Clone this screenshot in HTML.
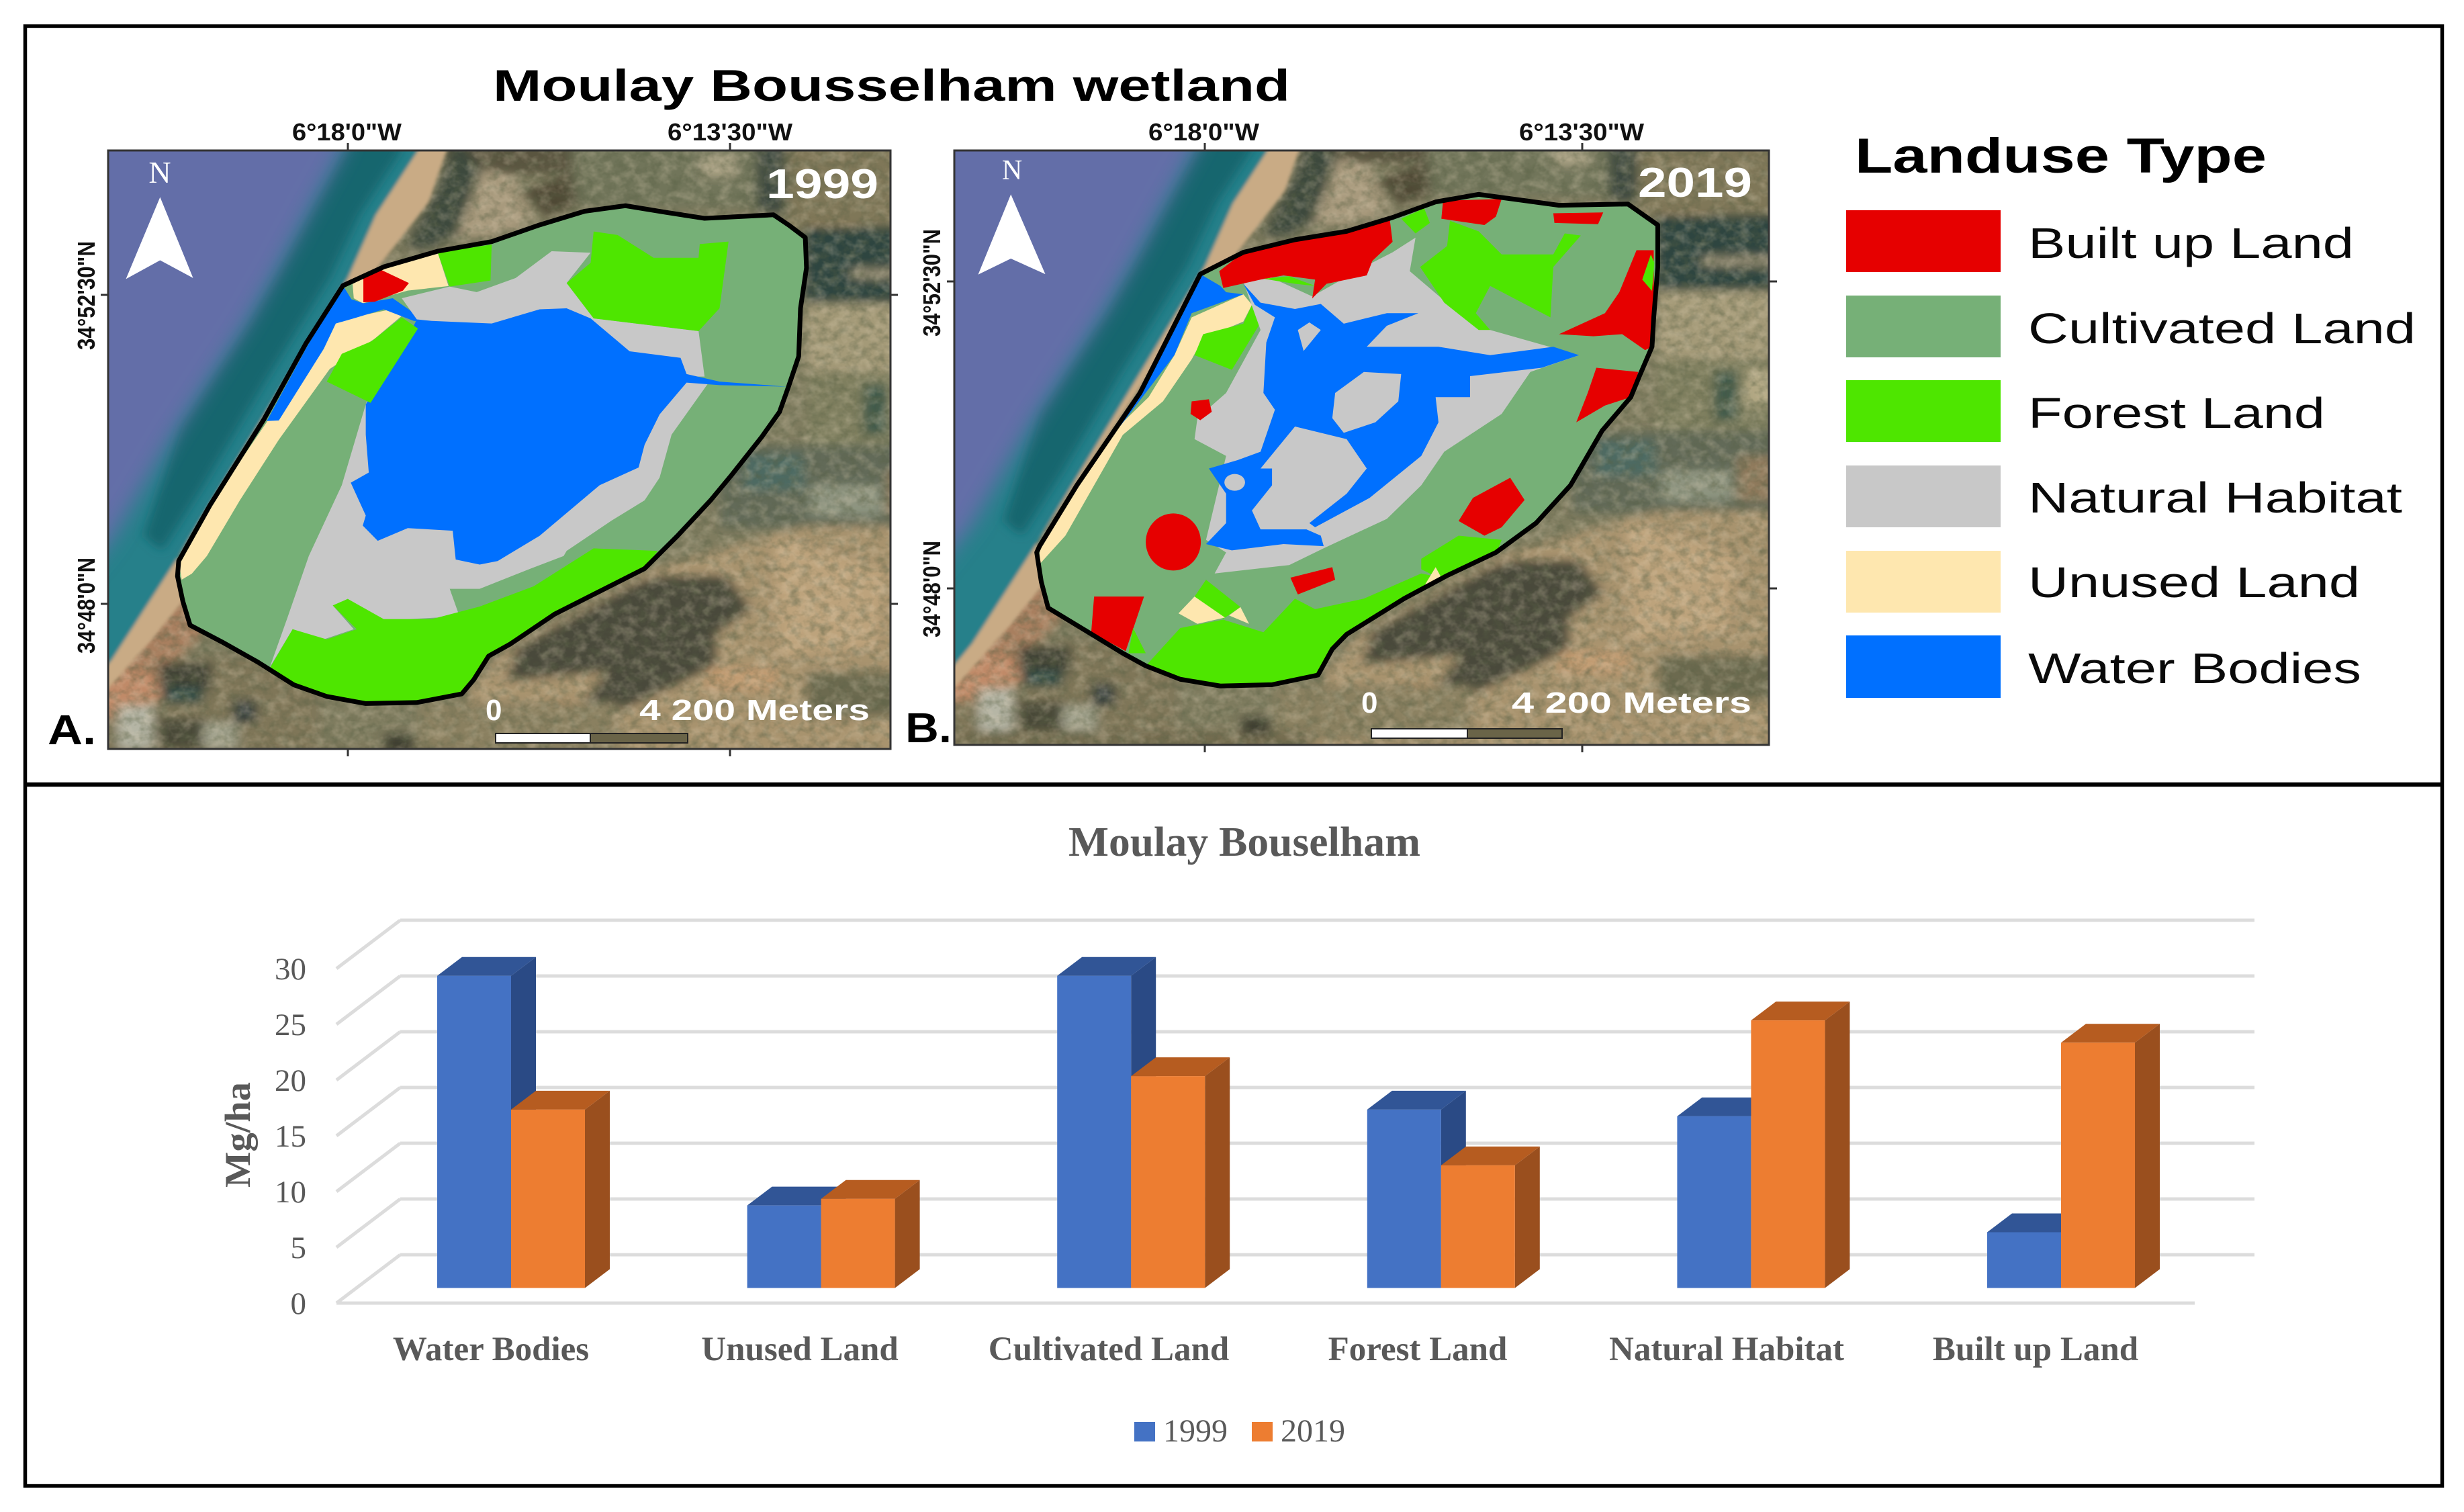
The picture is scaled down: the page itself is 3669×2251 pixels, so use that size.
<!DOCTYPE html>
<html lang="en">
<head>
<meta charset="utf-8">
<title>Moulay Bousselham wetland</title>
<style>
html,body{margin:0;padding:0;background:#fff;}
svg{display:block;}
.sans{font-family:"Liberation Sans",sans-serif;}
.serif{font-family:"Liberation Serif",serif;}
.coord{font-family:"Liberation Sans",sans-serif;font-weight:700;font-size:36px;fill:#111;}
.mapwhite{font-family:"Liberation Sans",sans-serif;font-weight:700;fill:#fff;}
.legtext{font-family:"Liberation Sans",sans-serif;font-size:64px;fill:#0a0a0a;}
.outline{fill:none;stroke:#000;stroke-width:7;vector-effect:non-scaling-stroke;stroke-linejoin:round;}
.bu{fill:#e60000}.cu{fill:#76b077}.fo{fill:#4ee600}.na{fill:#c8c8c8}.un{fill:#fee7af}.wa{fill:#0070ff}
.tick{stroke:#333;stroke-width:3;}
</style>
</head>
<body>
<svg xmlns="http://www.w3.org/2000/svg" width="3669" height="2251" viewBox="0 0 3669 2251">
<defs>
  <clipPath id="clipA"><rect x="161" y="224" width="1165" height="891"/></clipPath>
  <clipPath id="clipB"><rect x="1421" y="224" width="1213" height="885"/></clipPath>
  <filter id="soft" x="-5%" y="-5%" width="110%" height="110%"><feGaussianBlur stdDeviation="9"/></filter>
  <filter id="softer" x="-5%" y="-5%" width="110%" height="110%"><feGaussianBlur stdDeviation="18"/></filter>
  <filter id="crisp" x="-5%" y="-5%" width="110%" height="110%"><feGaussianBlur stdDeviation="3"/></filter>
  <filter id="grain" x="0" y="0" width="100%" height="100%">
    <feTurbulence type="fractalNoise" baseFrequency="0.06" numOctaves="3" seed="7"/>
    <feColorMatrix type="matrix" values="0 0 0 0 0.1  0 0 0 0 0.12  0 0 0 0 0.06  1.8 0 0 0 -0.72"/>
  </filter>
  <filter id="grainlight" x="0" y="0" width="100%" height="100%">
    <feTurbulence type="fractalNoise" baseFrequency="0.05" numOctaves="3" seed="21"/>
    <feColorMatrix type="matrix" values="0 0 0 0 0.82  0 0 0 0 0.7  0 0 0 0 0.52  1.8 0 0 0 -0.74"/>
  </filter>
  <g id="sat">
    <g filter="url(#soft)">
      <rect x="60" y="150" width="1700" height="1500" fill="#7f7b5f"/>
      <!-- north land -->
      <rect x="740" y="270" width="230" height="75" fill="#5a5540"/>
      <rect x="954" y="280" width="320" height="130" fill="#71755a"/>
      <rect x="1170" y="307" width="58" height="44" fill="#a8a083"/>
      <rect x="1262" y="280" width="50" height="142" fill="#3e4a3f"/>
      <rect x="1311" y="280" width="300" height="175" fill="#7f7759"/>
      <!-- north east fields -->
      <rect x="1345" y="444" width="83" height="31" fill="#a88a63"/>
      <rect x="1340" y="448" width="400" height="152" fill="#2f4540"/>
      <rect x="1420" y="530" width="120" height="22" fill="#8f8870"/>
      <rect x="1345" y="600" width="400" height="136" fill="#a49a78"/>
      <rect x="1345" y="736" width="400" height="152" fill="#7f7f5f"/>
      <rect x="1440" y="760" width="40" height="100" fill="#3f5a4c"/>
      <rect x="1490" y="760" width="70" height="70" fill="#b2a884"/>
      <rect x="1200" y="880" width="560" height="165" fill="#626a58"/>
      <rect x="1240" y="900" width="100" height="70" fill="#4d6a62"/>
      <rect x="1350" y="960" width="120" height="60" fill="#8e9480"/>
      <rect x="1480" y="930" width="80" height="90" fill="#8f7a5c"/>
      <!-- south east -->
      <polygon fill="#a8936e" points="1080,1130 1340,1040 1760,1040 1760,1650 700,1650 790,1350 850,1280"/>
      <polygon fill="#bda37c" points="1290,1060 1480,1130 1460,1280 1300,1300"/>
      <rect x="1345" y="1329" width="300" height="90" fill="#6c6a50"/>
      <polygon fill="#c09a70" points="1178,1320 1295,1320 1295,1365 1178,1365"/>
      <polygon fill="#48493a" points="1095,1139 1212,1139 1253,1205 1195,1254 1195,1316 1120,1360 1012,1418 954,1418 1012,1329 846,1347 862,1281 979,1205 1054,1157"/>
      <polygon fill="#c08f60" points="912,1387 962,1387 962,1436 912,1436"/>
      <rect x="700" y="1390" width="330" height="110" fill="#8a8060"/>
      <!-- south west -->
      <rect x="60" y="1300" width="470" height="350" fill="#7f7658"/>
      <polygon fill="#a87f5e" points="190,1300 300,1150 340,1250 280,1320 197,1400"/>
      <polygon fill="#c08a68" points="120,1420 197,1320 280,1340 270,1380 190,1420"/>
      <rect x="263" y="1310" width="90" height="55" fill="#3f4236"/>
      <rect x="272" y="1360" width="66" height="31" fill="#2a4a44"/>
      <rect x="388" y="1385" width="40" height="45" fill="#2f3a3a"/>
      <rect x="197" y="1396" width="58" height="86" fill="#b5b5a5"/>
      <rect x="338" y="1430" width="58" height="55" fill="#a5a590"/>
      <rect x="265" y="1420" width="75" height="65" fill="#4a4a38"/>
      <rect x="60" y="1480" width="700" height="170" fill="#736c50"/>
      <rect x="640" y="1450" width="50" height="40" fill="#3f3f30"/>
      <!-- dune hinterland -->
      <polygon fill="#3d4a3c" points="762,270 804,338 804,422 762,466 712,497 675,488 721,387"/>
      <polygon fill="#a89a7d" points="804,333 854,351 887,431 846,466 762,466"/>
      <polygon fill="#4f4a36" points="870,378 954,342 962,404 912,431"/>
    </g>
    <rect x="60" y="150" width="1700" height="1500" filter="url(#grain)" opacity="0.6"/>
    <rect x="60" y="150" width="1700" height="1500" filter="url(#grainlight)" opacity="0.35"/>
    <!-- sand and sea -->
    <g filter="url(#crisp)">
      <polygon fill="#c9ab85" points="740,220 790,220 745,298 715,400 630,530 590,580 296,1104 305,1190 250,1270 190,1350 100,1470 100,1430 186,1306 296,1104 580,550 627,425 697,298"/>
      <polygon fill="#25808a" points="740,220 697,298 627,425 580,550 296,1104 186,1306 100,1430 60,1430 60,150 700,150"/>
    </g>
    <g filter="url(#soft)">
      <polygon fill="#14666e" points="640,220 670,298 600,425 550,550 440,760 340,960 270,1090 240,1060 300,840 412,638 455,550 571,298"/>
    </g>
    <g filter="url(#softer)">
      <polygon fill="#636ea8" points="30,120 610,120 571,298 455,550 412,638 292,855 184,1072 90,1210 30,1300"/>
    </g>
  </g>
</defs>

<rect x="0" y="0" width="3669" height="2251" fill="#fff"/>
<rect x="37.5" y="39" width="3599" height="2173" fill="none" stroke="#000" stroke-width="5.5"/>
<line x1="37" y1="1168" x2="3637" y2="1168" stroke="#000" stroke-width="6.5"/>

<text class="sans" x="734" y="150" font-weight="700" font-size="66" textLength="1187" lengthAdjust="spacingAndGlyphs">Moulay Bousselham wetland</text>

<!-- MAP A -->
<g>
  <g clip-path="url(#clipA)">
    <use href="#sat" transform="scale(0.89286,0.75245)"/>
  </g>
  <g transform="scale(0.89286,0.75245)">
    <polygon class="cu" points="572,565 640,528 730,497 820,478 900,445 975,418 1043,407 1110,420 1175,432 1290,425 1315,445 1343,470 1345,530 1335,610 1332,705 1315,765 1300,815 1270,865 1220,940 1185,990 1130,1060 1075,1125 1000,1170 925,1215 850,1275 815,1298 790,1345 770,1373 695,1390 610,1392 545,1378 490,1355 430,1310 370,1270 317,1237 305,1190 296,1140 298,1110 350,1000 440,830 510,680"/>
    <polygon class="un" points="303,1147 298,1110 350,1000 445,835 540,650 580,630 660,610 670,625 625,670 550,730 465,870 400,990 345,1100 320,1135"/>
    <polygon class="un" points="588,562 640,528 730,500 748,566 680,575 605,600 590,590"/>
    <polygon class="wa" points="572,565 586,592 606,600 655,590 685,615 725,637 690,635 640,612 590,630 560,640 540,690 465,832 445,833 510,690"/>
    <polygon class="bu" points="606,548 632,532 682,560 672,575 625,597 606,598"/>
    <polygon class="fo" points="730,500 820,484 818,555 750,567"/>
    <polygon class="na" points="670,590 750,567 795,578 860,550 920,497 985,500 945,560 990,630 1165,655 1175,745 1145,745 1180,760 1120,860 1100,945 1075,990 1020,1030 945,1090 940,1100 885,1125 800,1165 750,1165 765,1215 760,1220 680,1225 620,1225 580,1185 555,1198 590,1245 540,1265 488,1245 450,1320 480,1220 515,1100 570,960 610,800 640,700 700,640"/>
    <polygon class="wa" points="695,632 720,635 820,640 900,612 945,610 985,630 1050,695 1135,708 1145,740 1200,755 1312,765 1200,762 1145,757 1100,820 1075,880 1065,925 1000,960 950,1010 900,1060 830,1110 800,1117 760,1107 755,1050 680,1045 630,1070 605,1040 610,1020 585,955 615,935 610,860 610,800 640,740 680,670"/>
    <polygon class="fo" points="670,628 697,650 618,797 545,755 570,700 620,675"/>
    <polygon class="fo" points="990,458 1030,465 1090,510 1165,510 1167,483 1215,478 1200,610 1165,655 990,630 945,560 985,520"/>
    <polygon class="fo" points="488,1245 545,1265 595,1245 555,1198 580,1185 640,1225 720,1225 800,1200 890,1160 990,1085 1097,1090 1075,1125 1000,1170 925,1215 850,1275 815,1298 790,1345 770,1373 695,1390 610,1392 545,1378 490,1355 450,1322"/>
    <polygon class="outline" points="572,565 640,528 730,497 820,478 900,445 975,418 1043,407 1110,420 1175,432 1290,425 1315,445 1343,470 1345,530 1335,610 1332,705 1315,765 1300,815 1270,865 1220,940 1185,990 1130,1060 1075,1125 1000,1170 925,1215 850,1275 815,1298 790,1345 770,1373 695,1390 610,1392 545,1378 490,1355 430,1310 370,1270 317,1237 305,1190 296,1140 298,1110 350,1000 440,830 510,680"/>
    <polygon fill="#fff" points="267,390 322,550 267,515 210,552"/>
  </g>
  <rect x="161" y="224" width="1165" height="891" fill="none" stroke="#333" stroke-width="3"/>
  <text class="serif" x="238" y="272" text-anchor="middle" font-size="46" fill="#fff">N</text>
  <text class="mapwhite" x="1141" y="295" font-size="62" textLength="167" lengthAdjust="spacingAndGlyphs">1999</text>
  <text class="mapwhite" x="723" y="1072" font-size="44">0</text>
  <text class="mapwhite" x="952" y="1072" font-size="44" textLength="343" lengthAdjust="spacingAndGlyphs">4 200 Meters</text>
  <rect x="738" y="1092" width="141" height="14" fill="#fff" stroke="#222" stroke-width="2"/>
  <rect x="879" y="1092" width="145" height="14" fill="#6a6448" stroke="#222" stroke-width="2"/>
  <g>
    <line class="tick" x1="518" y1="213" x2="518" y2="224"/><line class="tick" x1="1087" y1="213" x2="1087" y2="224"/>
    <line class="tick" x1="518" y1="1115" x2="518" y2="1126"/><line class="tick" x1="1087" y1="1115" x2="1087" y2="1126"/>
    <line class="tick" x1="150" y1="439" x2="161" y2="439"/><line class="tick" x1="150" y1="899" x2="161" y2="899"/>
    <line class="tick" x1="1326" y1="439" x2="1337" y2="439"/><line class="tick" x1="1326" y1="899" x2="1337" y2="899"/>
  </g>
  <text class="coord" x="435" y="209" textLength="163" lengthAdjust="spacingAndGlyphs">6°18'0"W</text>
  <text class="coord" x="994" y="209" textLength="186" lengthAdjust="spacingAndGlyphs">6°13'30"W</text>
  <text class="coord" transform="translate(141,521) rotate(-90)" textLength="162" lengthAdjust="spacingAndGlyphs">34°52'30"N</text>
  <text class="coord" transform="translate(141,973) rotate(-90)" textLength="143" lengthAdjust="spacingAndGlyphs">34°48'0"N</text>
  <text class="sans" x="71" y="1108" font-weight="700" font-size="62" textLength="72" lengthAdjust="spacingAndGlyphs">A.</text>
</g>

<!-- MAP B -->
<g>
  <g clip-path="url(#clipB)">
    <use href="#sat" transform="translate(1283.4,-13.6) scale(0.8813,0.7442)"/>
  </g>
  <g transform="translate(1330,160) scale(0.8547,0.625)">
    <polygon class="cu" points="535,397 610,345 700,315 790,295 870,262 945,225 1020,207 1090,220 1160,233 1280,230 1332,280 1332,380 1325,500 1322,570 1300,640 1285,690 1235,770 1180,900 1120,990 1050,1060 965,1115 890,1170 790,1255 765,1290 740,1352 660,1375 570,1378 500,1362 440,1330 400,1300 340,1250 270,1192 258,1130 250,1060 255,1045 320,900 430,680"/>
    <polygon class="un" points="255,1088 255,1045 320,900 385,770 445,690 490,590 520,500 610,445 625,470 610,510 540,550 520,600 470,700 400,780 350,900 300,1020"/>
    <polygon class="wa" points="535,397 570,425 580,440 610,445 520,490 490,590 395,760 430,680"/>
    <polygon class="fo" points="625,470 650,490 590,625 525,590 540,540 610,515"/>
    <polygon class="na" points="610,415 650,400 730,450 820,380 870,345 910,310 900,390 960,460 1020,510 1040,530 1195,590 1110,630 1060,730 960,820 920,900 860,980 750,1050 690,1090 560,1110 580,1060 545,1030 580,830 525,790 530,740 580,680 640,530"/>
    <polygon class="wa" points="610,420 640,465 700,480 745,468 785,515 860,490 915,490 860,520 825,570 950,570 1040,590 1150,570 1195,590 1130,620 1005,640 1005,690 945,690 950,750 920,830 830,930 735,1000 725,990 790,920 825,860 790,790 700,760 640,860 660,860 660,900 625,960 640,1005 720,1005 745,1020 750,1045 680,1040 590,1055 545,1040 580,990 580,920 550,860 600,840 640,820 665,720 645,680 650,560 665,500 630,470"/>
    <polygon class="na" points="705,530 725,512 745,530 715,580"/>
    <polygon class="na" points="820,630 885,635 880,700 840,750 785,775 765,740 770,680"/>
    <ellipse class="na" cx="595" cy="893" rx="18" ry="20"/>
    <polygon class="bu" points="568,390 610,345 700,315 790,295 865,265 870,320 835,365 825,400 755,420 730,455 735,410 680,400 640,410 575,430"/>
    <polygon class="fo" points="645,408 690,402 735,425 700,420"/>
    <polygon class="bu" points="958,222 1060,218 1050,260 1030,280 955,265"/>
    <polygon class="bu" points="1150,252 1237,250 1228,278 1152,275"/>
    <polygon class="bu" points="1295,340 1325,340 1325,430 1322,570 1310,578 1270,540 1220,545 1160,540 1240,490 1265,440"/>
    <polygon class="fo" points="1320,350 1326,370 1322,437 1305,410"/>
    <polygon class="bu" points="1225,620 1298,630 1285,690 1240,710 1190,750 1210,680"/>
    <polygon class="bu" points="1075,882 1100,935 1060,1000 1030,1020 985,985 1010,930"/>
    <ellipse class="bu" cx="488" cy="1035" rx="48" ry="68"/>
    <polygon class="bu" points="520,700 550,695 555,725 535,745 518,730"/>
    <polygon class="bu" points="692,1120 765,1095 770,1125 705,1160"/>
    <polygon class="bu" points="350,1165 437,1165 405,1295 345,1250"/>
    <polygon class="fo" points="970,270 1020,295 1060,350 1150,350 1170,300 1198,305 1150,380 1145,500 1040,425 1015,490 1040,530 1020,530 960,465 918,380 965,330"/>
    <polygon class="fo" points="885,265 925,240 935,275 910,300"/>
    <polygon class="fo" points="440,1330 500,1240 575,1220 645,1250 700,1170 735,1195 820,1170 920,1110 955,1120 965,1115 890,1170 790,1255 765,1290 740,1352 660,1375 570,1378 500,1362"/>
    <polygon class="fo" points="545,1125 605,1190 575,1218 525,1165"/>
    <polygon class="un" points="525,1165 578,1215 530,1230 497,1205"/>
    <polygon class="un" points="605,1190 620,1230 585,1210"/>
    <polygon class="fo" points="920,1075 985,1020 1060,1030 1050,1065 965,1115 950,1120 920,1100"/>
    <polygon class="un" points="945,1095 955,1120 925,1140"/>
    <polygon class="fo" points="418,1240 440,1300 410,1300"/>
    <polygon class="outline" points="535,397 610,345 700,315 790,295 870,262 945,225 1020,207 1090,220 1160,233 1280,230 1332,280 1332,380 1325,500 1322,570 1300,640 1285,690 1235,770 1180,900 1120,990 1050,1060 965,1115 890,1170 790,1255 765,1290 740,1352 660,1375 570,1378 500,1362 440,1330 400,1300 340,1250 270,1192 258,1130 250,1060 255,1045 320,900 430,680"/>
    <polygon fill="#fff" points="205,207 265,397 205,360 148,398"/>
  </g>
  <rect x="1421" y="224" width="1213" height="885" fill="none" stroke="#333" stroke-width="3"/>
  <text class="serif" x="1507" y="267" text-anchor="middle" font-size="42" fill="#fff">N</text>
  <text class="mapwhite" x="2439" y="293" font-size="62" textLength="170" lengthAdjust="spacingAndGlyphs">2019</text>
  <text class="mapwhite" x="2027" y="1061" font-size="44">0</text>
  <text class="mapwhite" x="2251" y="1061" font-size="44" textLength="357" lengthAdjust="spacingAndGlyphs">4 200 Meters</text>
  <rect x="2042" y="1085" width="143" height="14" fill="#fff" stroke="#222" stroke-width="2"/>
  <rect x="2185" y="1085" width="141" height="14" fill="#6a6448" stroke="#222" stroke-width="2"/>
  <g>
    <line class="tick" x1="1794" y1="213" x2="1794" y2="224"/><line class="tick" x1="2356" y1="213" x2="2356" y2="224"/>
    <line class="tick" x1="1794" y1="1109" x2="1794" y2="1120"/><line class="tick" x1="2356" y1="1109" x2="2356" y2="1120"/>
    <line class="tick" x1="1410" y1="419" x2="1421" y2="419"/><line class="tick" x1="1410" y1="876" x2="1421" y2="876"/>
    <line class="tick" x1="2634" y1="419" x2="2646" y2="419"/><line class="tick" x1="2634" y1="876" x2="2646" y2="876"/>
  </g>
  <text class="coord" x="1710" y="209" textLength="165" lengthAdjust="spacingAndGlyphs">6°18'0"W</text>
  <text class="coord" x="2262" y="209" textLength="186" lengthAdjust="spacingAndGlyphs">6°13'30"W</text>
  <text class="coord" transform="translate(1400,501) rotate(-90)" textLength="160" lengthAdjust="spacingAndGlyphs">34°52'30"N</text>
  <text class="coord" transform="translate(1400,949) rotate(-90)" textLength="144" lengthAdjust="spacingAndGlyphs">34°48'0"N</text>
  <text class="sans" x="1348" y="1105" font-weight="700" font-size="62" textLength="69" lengthAdjust="spacingAndGlyphs">B.</text>
</g>

<!-- LANDUSE LEGEND -->
<g>
  <text class="sans" x="2762" y="257" font-weight="700" font-size="73" textLength="613" lengthAdjust="spacingAndGlyphs">Landuse Type</text>
  <rect class="bu" x="2749" y="313" width="230" height="92"/>
  <text class="legtext" x="3020" y="384" textLength="485" lengthAdjust="spacingAndGlyphs">Built up Land</text>
  <rect class="cu" x="2749" y="440" width="230" height="92"/>
  <text class="legtext" x="3020" y="511" textLength="577" lengthAdjust="spacingAndGlyphs">Cultivated Land</text>
  <rect class="fo" x="2749" y="566" width="230" height="92"/>
  <text class="legtext" x="3020" y="637" textLength="442" lengthAdjust="spacingAndGlyphs">Forest Land</text>
  <rect class="na" x="2749" y="693" width="230" height="92"/>
  <text class="legtext" x="3020" y="763" textLength="557" lengthAdjust="spacingAndGlyphs">Natural Habitat</text>
  <rect class="un" x="2749" y="820" width="230" height="92"/>
  <text class="legtext" x="3020" y="889" textLength="494" lengthAdjust="spacingAndGlyphs">Unused Land</text>
  <rect class="wa" x="2749" y="946" width="230" height="93"/>
  <text class="legtext" x="3020" y="1017" textLength="496" lengthAdjust="spacingAndGlyphs">Water Bodies</text>
</g>

<!-- BAR CHART -->
<g id="chart"></g>

<script>
const categories = ['Water Bodies', 'Unused Land', 'Cultivated Land', 'Forest Land', 'Natural Habitat', 'Built up Land'];
const values1999 = [28, 7.4, 28, 16, 15.4, 5];
const values2019 = [16, 8, 19, 11, 24, 22];
const yTicks = [0, 5, 10, 15, 20, 25, 30];
const seriesNames = ['1999', '2019'];

const NS = 'http://www.w3.org/2000/svg';
const chart = document.getElementById('chart');
const UNIT = 16.6;
const BAR_W = 110, DX = 37, DY = 28;
const yBar = v => 1917.5 - v * UNIT;
const yFront = v => 1940 - v * UNIT;
const yBack = v => 1868 - v * UNIT;
const xGroup = i => 651 + i * 461.6;
const xLabel = i => 731 + i * 460;
const seriesColors = [
  { front: '#4472c4', side: '#2a4a85', top: '#315596' },
  { front: '#ed7d31', side: '#9a4f1e', top: '#b65c20' }
];

function make(tag, attrs, parent) {
  const el = document.createElementNS(NS, tag);
  for (const k in attrs) el.setAttribute(k, attrs[k]);
  (parent || chart).appendChild(el);
  return el;
}
function textStyle(size, weight) {
  return { 'font-family': '"Liberation Serif", serif', 'font-size': size, 'font-weight': weight, fill: '#595959' };
}

const title = make('text', Object.assign({ x: 1591, y: 1274, textLength: 524, lengthAdjust: 'spacingAndGlyphs' }, textStyle(62, 700)));
title.textContent = 'Moulay Bouselham';



yTicks.forEach(function (t) {
  const g = make('g', {});
  
  
  make('line', { x1: 501, y1: yFront(t), x2: 596, y2: yBack(t), stroke: '#dcdcdc', 'stroke-width': 5 }, g);
  make('line', { x1: 596, y1: yBack(t), x2: 3357, y2: yBack(t), stroke: '#dcdcdc', 'stroke-width': 5 }, g);
  const lab = make('text', Object.assign({ x: 456, y: yFront(t) + 16, 'text-anchor': 'end' }, textStyle(47, 400)));
  lab.textContent = String(t);
  
  
});
const floor = make('line', { x1: 501, y1: yFront(0), x2: 3268, y2: yFront(0), stroke: '#dcdcdc', 'stroke-width': 5 });



const yTitle = make('text', Object.assign({ transform: 'translate(372,1768) rotate(-90)', textLength: 157, lengthAdjust: 'spacingAndGlyphs' }, textStyle(54, 700)));
yTitle.textContent = 'Mg/ha';



function drawBar(x, v, c, name) {
  const yT = yBar(v), yB = yBar(0);
  const g = make('g', {});
  
  
  make('polygon', { fill: c.side, points: [x + BAR_W, yT, x + BAR_W + DX, yT - DY, x + BAR_W + DX, yB - DY, x + BAR_W, yB].join(' ') }, g);
  make('polygon', { fill: c.top, points: [x, yT, x + BAR_W, yT, x + BAR_W + DX, yT - DY, x + DX, yT - DY].join(' ') }, g);
  make('rect', { x: x, y: yT, width: BAR_W, height: yB - yT, fill: c.front }, g);
}

categories.forEach(function (cat, i) {
  const key = cat.toLowerCase().replace(/ /g, '-');
  drawBar(xGroup(i), values1999[i], seriesColors[0], 'bar-1999-' + key);
  drawBar(xGroup(i) + BAR_W, values2019[i], seriesColors[1], 'bar-2019-' + key);
  const lab = make('text', Object.assign({ x: xLabel(i), y: 2025, 'text-anchor': 'middle' }, textStyle(51, 700)));
  lab.textContent = cat;
  
  
});

seriesNames.forEach(function (name, i) {
  const g = make('g', {});
  
  
  make('rect', { x: 1689 + i * 175, y: 2117, width: 31, height: 29, fill: seriesColors[i].front }, g);
  const t = make('text', Object.assign({ x: 1732 + i * 175, y: 2146 }, textStyle(48, 400)), g);
  t.textContent = name;
});
</script>
</svg>
</body>
</html>
